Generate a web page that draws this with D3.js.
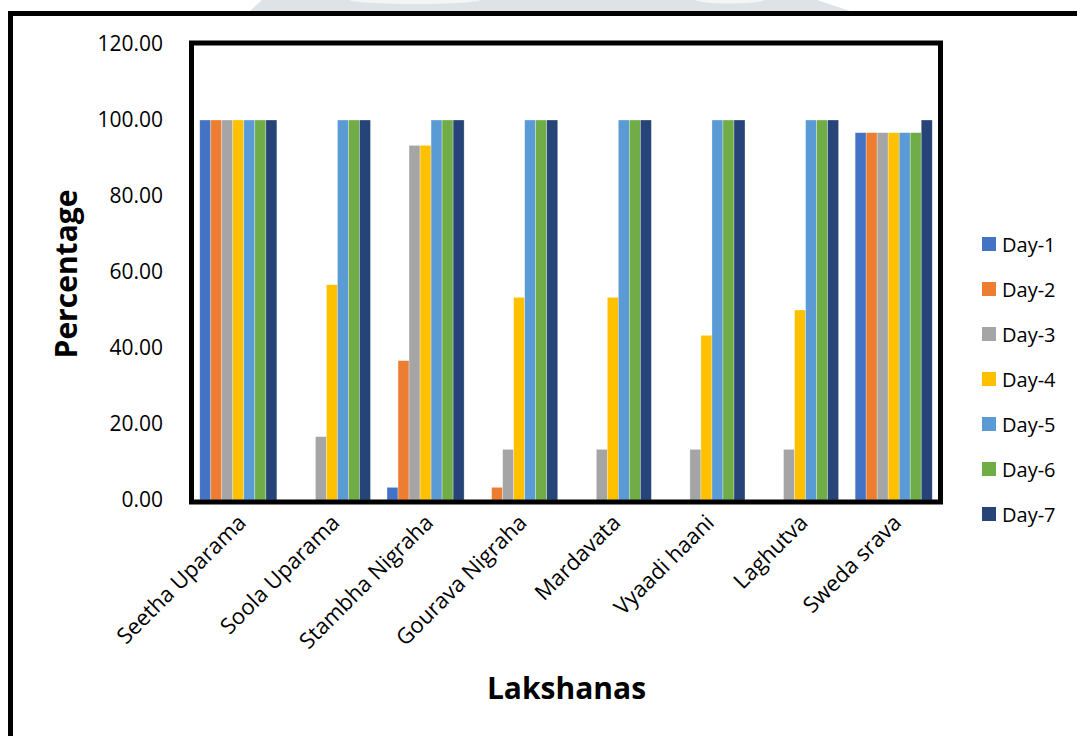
<!DOCTYPE html>
<html>
<head>
<meta charset="utf-8">
<script src="https://cdn.jsdelivr.net/npm/d3@7"></script>
<style>
  html, body { margin: 0; padding: 0; background: #fff; }
  svg { display: block; }
  text { font-family: "Open Sans", "Noto Sans", sans-serif; fill: #000; }
</style>
</head>
<body>
<svg id="chart" width="1077" height="736"></svg>
<script>
// ---- data ----
const categories = ["Seetha Uparama", "Soola Uparama", "Stambha Nigraha", "Gourava Nigraha",
                    "Mardavata", "Vyaadi haani", "Laghutva", "Sweda srava"];
const seriesNames = ["Day-1", "Day-2", "Day-3", "Day-4", "Day-5", "Day-6", "Day-7"];
const day1 = [100, 0, 3.33, 0, 0, 0, 0, 96.67];
const day2 = [100, 0, 36.67, 3.33, 0, 0, 0, 96.67];
const day3 = [100, 16.67, 93.33, 13.33, 13.33, 13.33, 13.33, 96.67];
const day4 = [100, 56.67, 93.33, 53.33, 53.33, 43.33, 50.00, 96.67];
const day5 = [100, 100, 100, 100, 100, 100, 100, 96.67];
const day6 = [100, 100, 100, 100, 100, 100, 100, 96.67];
const day7 = [100, 100, 100, 100, 100, 100, 100, 100];
const yTicks = [0, 20, 40, 60, 80, 100, 120];
const colors = ["#4472C4", "#ED7D31", "#A5A5A5", "#FFC000", "#5B9BD5", "#70AD47", "#264478"];

const seriesValues = [day1, day2, day3, day4, day5, day6, day7];

(function () {
const svg = d3.select("#chart");

// faint watermark strip at the top
const wm = svg.append("g");
wm.append("path")
  .attr("d", "M250,11 L262,0 L817,0 L850,11 Z")
  .attr("fill", "#dde3e6");
wm.append("ellipse").attr("cx", 415).attr("cy", 0).attr("rx", 65).attr("ry", 4).attr("fill", "#f3f5f6");
wm.append("ellipse").attr("cx", 730).attr("cy", 0).attr("rx", 34).attr("ry", 3.5).attr("fill", "#f3f5f6");

// outer frame
svg.append("rect")
  .attr("x", 10.5).attr("y", 13.5)
  .attr("width", 1100).attr("height", 800)
  .attr("fill", "none").attr("stroke", "#000").attr("stroke-width", 5);

// plot geometry
const pLeft = 191.5, pRight = 940.5, pTop = 43, pBottom = 502;

const x0 = d3.scaleBand().domain(categories).range([pLeft, pRight]).paddingInner(0).paddingOuter(0);
const groupW = x0.bandwidth() * 7 / 8.5;
const x1 = d3.scaleBand().domain(seriesNames).range([0, groupW]).padding(0);
const y = d3.scaleLinear().domain([0, 120]).range([500, 44]);

// bars
const gBars = svg.append("g");
seriesNames.forEach((s, si) => {
  gBars.append("g")
    .selectAll("rect")
    .data(categories.map((c, ci) => ({ c, v: seriesValues[si][ci] })))
    .join("rect")
    .attr("x", d => x0(d.c) + (x0.bandwidth() - groupW) / 2 + x1(s))
    .attr("width", x1.bandwidth())
    .attr("y", d => y(d.v))
    .attr("height", d => Math.max(0, y(0) - y(d.v)))
    .attr("fill", colors[si])
    .attr("stroke", "#ffffff")
    .attr("stroke-opacity", 0.5)
    .attr("stroke-width", 0.6);
});

// plot border
svg.append("rect")
  .attr("x", pLeft).attr("y", pTop)
  .attr("width", pRight - pLeft).attr("height", pBottom - pTop)
  .attr("fill", "none").attr("stroke", "#000").attr("stroke-width", 5);

// y axis labels
const yAxis = d3.axisLeft(y).tickValues(yTicks).tickFormat(d3.format(".2f")).tickSize(0).tickPadding(0);
const gy = svg.append("g").attr("transform", "translate(163,0)").call(yAxis);
gy.select(".domain").remove();
gy.selectAll("text")
  .style("font-family", "'Open Sans', sans-serif")
  .style("font-size", "21px")
  .attr("fill", "#000");

// x axis labels
const xAxis = d3.axisBottom(x0).tickSize(0).tickPadding(0);
const gx = svg.append("g").call(xAxis);
gx.select(".domain").remove();
gx.selectAll(".tick").attr("transform", d => `translate(${x0(d) + x0.bandwidth() / 2 + 9},524)`);
gx.selectAll("text")
  .attr("x", 0).attr("y", 0).attr("dy", 0)
  .attr("text-anchor", "end")
  .attr("transform", "rotate(-45)")
  .style("font-family", "'Open Sans', sans-serif")
  .style("font-size", "22px")
  .attr("fill", "#000");

// axis titles
svg.append("text")
  .attr("x", 566.5).attr("y", 699)
  .attr("text-anchor", "middle")
  .style("font-size", "30px").style("font-weight", "bold")
  .text("Lakshanas");

svg.append("text")
  .attr("transform", "translate(77,274) rotate(-90)")
  .attr("text-anchor", "middle")
  .style("font-size", "30px").style("font-weight", "bold")
  .text("Percentage");

// legend
const legend = svg.append("g");
seriesNames.forEach((s, i) => {
  const cy = 244 + i * 45;
  legend.append("rect")
    .attr("x", 982).attr("y", cy - 7)
    .attr("width", 14).attr("height", 14)
    .attr("fill", colors[i]);
  legend.append("text")
    .attr("x", 1002).attr("y", cy)
    .attr("dominant-baseline", "central")
    .style("font-size", "20px")
    .text(s);
});
})();
</script>
</body>
</html>
